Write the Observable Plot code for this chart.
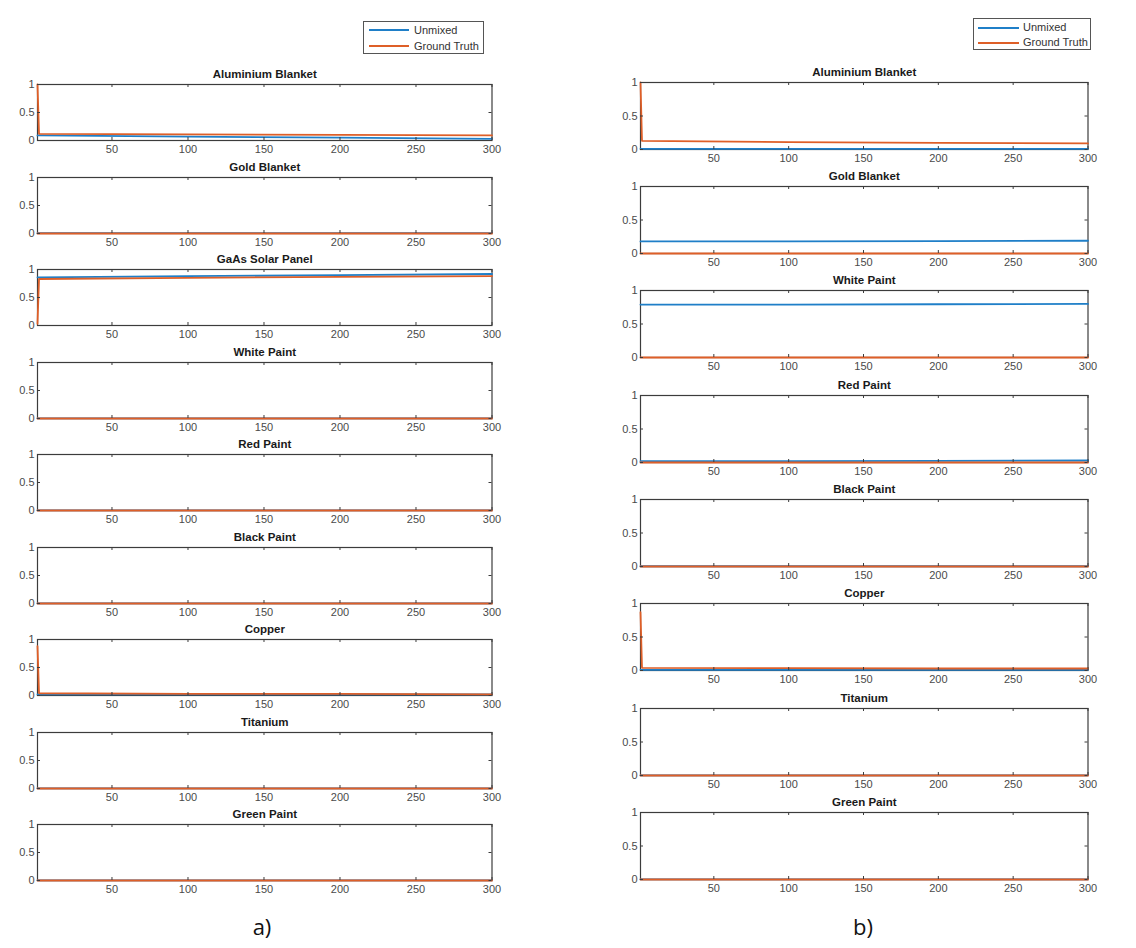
<!DOCTYPE html>
<html><head><meta charset="utf-8">
<script src="https://cdn.jsdelivr.net/npm/d3@7"></script>
<script src="https://cdn.jsdelivr.net/npm/@observablehq/plot@0.6"></script>
<style>
body{margin:0;background:#fff;}
#root{position:relative;width:1136px;height:948px;overflow:hidden;background:#fff;font-family:"Liberation Sans",Arial,sans-serif;}
.legend{position:absolute;border:1px solid #555;background:#fff;box-sizing:border-box;}
.legend .row{position:absolute;font-size:11px;color:#333;line-height:12px;white-space:nowrap;}
.legend .sw{position:absolute;height:0;border-top:2px solid;}
.lab{position:absolute;font-size:22px;color:#111;font-family:"Open Sans","Liberation Sans",sans-serif;transform:translate(-50%,-50%);}
</style></head><body><div id="root"></div>
<script>
// ---- data ----
const sampleX = [1, 2, 100, 200, 300];
const xTicks = [50, 100, 150, 200, 250, 300];
const yTicks = [0, 0.5, 1];
const seriesNames = ["Unmixed", "Ground Truth"];

const panelsA = ["Aluminium Blanket", "Gold Blanket", "GaAs Solar Panel", "White Paint", "Red Paint", "Black Paint", "Copper", "Titanium", "Green Paint"];
const unmixedA = [
  [0.09, 0.09, 0.07, 0.05, 0.03],
  [0.005, 0.005, 0.005, 0.005, 0.005],
  [0.86, 0.86, 0.88, 0.9, 0.92],
  [0.004, 0.004, 0.004, 0.004, 0.004],
  [0.004, 0.004, 0.004, 0.004, 0.004],
  [0.004, 0.004, 0.004, 0.004, 0.004],
  [0.02, 0.02, 0.02, 0.02, 0.02],
  [0.003, 0.003, 0.003, 0.003, 0.003],
  [0.003, 0.003, 0.003, 0.003, 0.003]
];
const truthA = [
  [1, 0.12, 0.11, 0.1, 0.09],
  [0, 0, 0, 0, 0],
  [0.03, 0.83, 0.85, 0.87, 0.88],
  [0, 0, 0, 0, 0],
  [0, 0, 0, 0, 0],
  [0, 0, 0, 0, 0],
  [0.88, 0.04, 0.03, 0.03, 0.02],
  [0, 0, 0, 0, 0],
  [0, 0, 0, 0, 0]
];

const panelsB = ["Aluminium Blanket", "Gold Blanket", "White Paint", "Red Paint", "Black Paint", "Copper", "Titanium", "Green Paint"];
const unmixedB = [
  [0.01, 0.01, 0.01, 0.01, 0.01],
  [0.18, 0.18, 0.18, 0.185, 0.19],
  [0.79, 0.79, 0.79, 0.795, 0.8],
  [0.02, 0.02, 0.02, 0.025, 0.03],
  [0.004, 0.004, 0.004, 0.004, 0.004],
  [0.01, 0.01, 0.01, 0.01, 0.01],
  [0.003, 0.003, 0.003, 0.003, 0.003],
  [0.003, 0.003, 0.003, 0.003, 0.003]
];
const truthB = [
  [1, 0.13, 0.11, 0.1, 0.09],
  [0, 0, 0, 0, 0],
  [0, 0, 0, 0, 0],
  [0, 0, 0, 0, 0],
  [0, 0, 0, 0, 0],
  [0.87, 0.04, 0.035, 0.03, 0.03],
  [0, 0, 0, 0, 0],
  [0, 0, 0, 0, 0]
];
const columnLabels = ["a)", "b)"];

// ---- styling ----
const BLUE = "#1f7fc8", ORANGE = "#de5f28", AXC = "#3c3c3c", TXC = "#4a4a4a";
const FONT = '"Liberation Sans", Arial, sans-serif';
const root = document.getElementById("root");

function panel(name, unm, gt, x0, top, w, h) {
  const ml = 34, mr = 16, mt = 22, mb = 20;
  const data = sampleX.map((x, i) => ({x, u: unm[i], g: gt[i]}));
  const p = Plot.plot({
    width: w + ml + mr, height: h + mt + mb,
    marginLeft: ml, marginRight: mr, marginTop: mt, marginBottom: mb,
    x: {domain: [1, 300]}, y: {domain: [0, 1]},
    style: {fontFamily: FONT, fontSize: "11px", color: TXC, background: "transparent", overflow: "visible"},
    marks: [
      Plot.frame({stroke: AXC, strokeWidth: 1.2}),
      Plot.line(data, {x: "x", y: "u", stroke: BLUE, strokeWidth: 1.8}),
      Plot.line(data, {x: "x", y: "g", stroke: ORANGE, strokeWidth: 1.8}),
      Plot.tickX(xTicks, {x: d => d, insetTop: h - 3, stroke: AXC}),
      Plot.tickX(xTicks, {x: d => d, insetBottom: h - 3, stroke: AXC}),
      Plot.tickY(yTicks, {y: d => d, insetRight: w - 3, stroke: AXC}),
      Plot.tickY(yTicks, {y: d => d, insetLeft: w - 3, stroke: AXC}),
      Plot.axisX({ticks: xTicks, tickSize: 0, tickPadding: 5, anchor: "bottom", label: null, color: TXC}),
      Plot.axisY({ticks: yTicks, tickSize: 0, tickPadding: 3, anchor: "left", label: null, color: TXC, tickFormat: d => String(d)}),
      Plot.text([name], {text: d => d, frameAnchor: "top", lineAnchor: "middle", dy: -10, fontWeight: "bold", fontSize: 11.5, fill: "#1a1a1a"})
    ]
  });
  p.style.position = "absolute";
  p.style.left = (x0 - ml) + "px";
  p.style.top = (top - mt) + "px";
  root.appendChild(p);
}

panelsA.forEach((n, i) => panel(n, unmixedA[i], truthA[i], 37, 84.3 + i * 92.5, 454.5, 56));
panelsB.forEach((n, i) => panel(n, unmixedB[i], truthB[i], 640, 81.7 + i * 104.3, 447.5, 67));

function legend(left, top, w, h, r1, r2, lx0, lx1, tx) {
  const L = document.createElement("div");
  L.className = "legend";
  Object.assign(L.style, {left: left + "px", top: top + "px", width: w + "px", height: h + "px"});
  [[seriesNames[0], BLUE, r1], [seriesNames[1], ORANGE, r2]].forEach(([t, c, ry]) => {
    const s = document.createElement("div");
    s.className = "sw";
    Object.assign(s.style, {left: lx0 + "px", width: (lx1 - lx0) + "px", top: (ry - 1) + "px", borderTopColor: c});
    L.appendChild(s);
    const r = document.createElement("div");
    r.className = "row";
    Object.assign(r.style, {left: tx + "px", top: (ry - 6.5) + "px"});
    r.textContent = t;
    L.appendChild(r);
  });
  root.appendChild(L);
}
legend(363, 21, 121, 33, 8.3, 24, 5, 45, 50);
legend(973, 18, 118, 32, 8.7, 23.7, 4, 45, 49);

[[262, 926], [863, 926]].forEach(([x, y], i) => {
  const d = document.createElement("div");
  d.className = "lab";
  d.style.left = x + "px"; d.style.top = y + "px";
  d.textContent = columnLabels[i];
  root.appendChild(d);
});
</script></body></html>
